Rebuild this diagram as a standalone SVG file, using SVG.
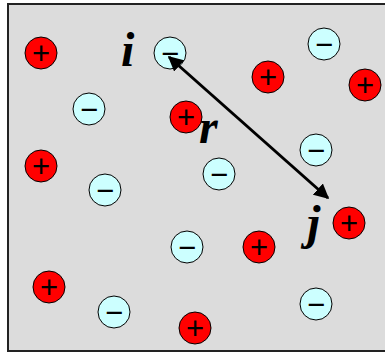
<svg xmlns="http://www.w3.org/2000/svg" width="385" height="354" viewBox="0 0 385 354">
<defs>
<style>
.pos circle{fill:#ff0000;stroke:#000;stroke-width:1}
.neg circle{fill:#ccffff;stroke:#000;stroke-width:1}
.sign{font-family:"Liberation Sans",Arial,sans-serif;font-size:31px;text-anchor:middle;fill:#000}
.lbl{font-family:"Liberation Serif","Times New Roman",serif;font-size:48px;font-weight:bold;font-style:italic;fill:#000}
</style>
<marker id="ah" viewBox="0 0 10 10" refX="9" refY="5" markerWidth="5" markerHeight="5" orient="auto-start-reverse" markerUnits="strokeWidth">
<path d="M0,0 L10,5 L0,10 z" fill="#000"/>
</marker>
</defs>
<rect x="8" y="4" width="392" height="347" fill="#dcdcdc" stroke="#222" stroke-width="2"/>
<g id="p1" class="pos"><circle cx="41" cy="53" r="16"/><text class="sign" x="41" y="63.5">+</text></g>
<g id="p2" class="pos"><circle cx="186" cy="117" r="16"/><text class="sign" x="186" y="127.5">+</text></g>
<g id="p3" class="pos"><circle cx="41" cy="166" r="16"/><text class="sign" x="41" y="176.5">+</text></g>
<g id="p4" class="pos"><circle cx="268" cy="77" r="16"/><text class="sign" x="268" y="87.5">+</text></g>
<g id="p5" class="pos"><circle cx="365" cy="85" r="16"/><text class="sign" x="365" y="95.5">+</text></g>
<g id="p6" class="pos"><circle cx="49" cy="287" r="16"/><text class="sign" x="49" y="297.5">+</text></g>
<g id="p7" class="pos"><circle cx="195" cy="328" r="16"/><text class="sign" x="195" y="338.5">+</text></g>
<g id="p8" class="pos"><circle cx="259" cy="247" r="16"/><text class="sign" x="259" y="257.5">+</text></g>
<g id="p9" class="pos"><circle cx="349" cy="223" r="16"/><text class="sign" x="349" y="233.5">+</text></g>
<g id="n1" class="neg"><circle cx="170" cy="53" r="16"/><text class="sign" x="170" y="63.5">−</text></g>
<g id="n2" class="neg"><circle cx="89" cy="109" r="16"/><text class="sign" x="89" y="119.5">−</text></g>
<g id="n3" class="neg"><circle cx="324" cy="44" r="16"/><text class="sign" x="324" y="54.5">−</text></g>
<g id="n4" class="neg"><circle cx="316" cy="150" r="16"/><text class="sign" x="316" y="160.5">−</text></g>
<g id="n5" class="neg"><circle cx="219" cy="174" r="16"/><text class="sign" x="219" y="184.5">−</text></g>
<g id="n6" class="neg"><circle cx="105" cy="190" r="16"/><text class="sign" x="105" y="200.5">−</text></g>
<g id="n7" class="neg"><circle cx="187" cy="247" r="16"/><text class="sign" x="187" y="257.5">−</text></g>
<g id="n8" class="neg"><circle cx="114" cy="312" r="16"/><text class="sign" x="114" y="322.5">−</text></g>
<g id="n9" class="neg"><circle cx="316" cy="304" r="16"/><text class="sign" x="316" y="314.5">−</text></g>
<g id="connectors">
<line x1="169" y1="57" x2="328" y2="198" stroke="#000" stroke-width="3" marker-start="url(#ah)" marker-end="url(#ah)"/>
</g>
<g id="labels">
<text class="lbl" x="121" y="66">i</text>
<text class="lbl" x="199" y="143">r</text>
<text class="lbl" x="307" y="239">j</text>
</g>
</svg>
